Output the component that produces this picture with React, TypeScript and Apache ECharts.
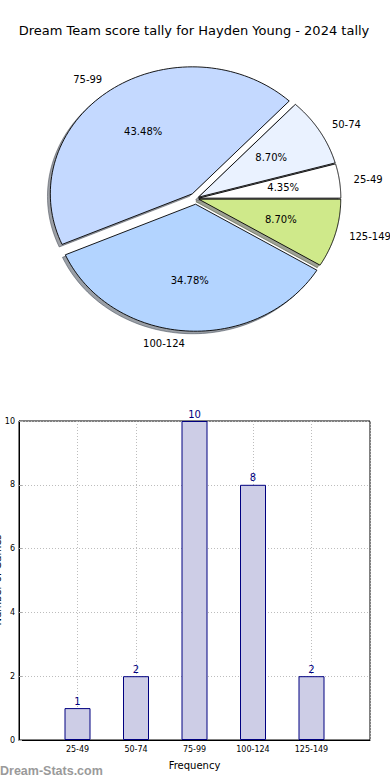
import React, { useEffect, useRef } from "react";
import * as echarts from "echarts";

const chartTitle = "Dream Team score tally for Hayden Young - 2024 tally";
const pieLabels = ["25-49", "50-74", "75-99", "100-124", "125-149"];
const pieValues = [1, 2, 10, 8, 2];
const pieColors = ["#ffffff", "#eaf2ff", "#c4d9ff", "#b3d4ff", "#cfe98a"];
const pieExplode = [0.02, 0.02, 0.045, 0.045, 0.02];

const barCategories = ["", "25-49", "50-74", "75-99", "100-124", "125-149", ""];
const barValues: (number | string)[] = ["-", 1, 2, 10, 8, 2, "-"];

const FONT = "DejaVu Sans";

function hexToRgb(h: string) {
  const n = parseInt(h.slice(1), 16);
  return [(n >> 16) & 255, (n >> 8) & 255, n & 255];
}

function wedgeGeom(i: number) {
  const total = pieValues.reduce((a, b) => a + b, 0);
  let start = 0;
  for (let k = 0; k < i; k++) start += pieValues[k];
  const t1 = (start / total) * Math.PI * 2;
  const t2 = ((start + pieValues[i]) / total) * Math.PI * 2;
  const mid = (t1 + t2) / 2;
  const ex = pieExplode[i] * Math.cos(mid);
  const ey = pieExplode[i] * Math.sin(mid);
  return { t1, t2, mid, ex, ey, total };
}

function wedgePoints(api: any, i: number, dx: number, dy: number) {
  const g = wedgeGeom(i);
  const pts: number[][] = [api.coord([g.ex + dx, g.ey + dy])];
  const steps = 80;
  for (let s = 0; s <= steps; s++) {
    const t = g.t1 + ((g.t2 - g.t1) * s) / steps;
    pts.push(api.coord([g.ex + dx + Math.cos(t), g.ey + dy + Math.sin(t)]));
  }
  return pts;
}

export default function App() {
  const ref = useRef<HTMLDivElement>(null);
  useEffect(() => {
    if (!ref.current) return;
    const chart = echarts.init(ref.current, undefined, { renderer: "svg" });
    const pieData = pieValues.map((v, i) => ({ value: [i, v] }));
    chart.setOption({
      animation: false,
      textStyle: { fontFamily: FONT },
      grid: [
        { left: 54, top: 71.5, width: 284, height: 254, show: false },
        {
          left: 19,
          top: 421,
          width: 351,
          height: 319,
          show: true,
          borderColor: "#000",
          borderWidth: 1,
        },
      ],
      xAxis: [
        { gridIndex: 0, type: "value", min: -1, max: 1, show: false },
        {
          gridIndex: 1,
          type: "category",
          data: barCategories,
          boundaryGap: false,
          axisLine: { show: true, lineStyle: { color: "#000", width: 1 } },
          axisTick: { show: false },
          axisLabel: { fontSize: 8, color: "#000", margin: 5, fontFamily: FONT },
          splitLine: {
            show: true,
            lineStyle: { color: "#bdbdbd", type: [1, 2], width: 1 },
          },
          name: "Frequency",
          nameLocation: "middle",
          nameGap: 20,
          nameTextStyle: { fontSize: 10, color: "#000", fontFamily: FONT },
        },
      ],
      yAxis: [
        { gridIndex: 0, type: "value", min: -1, max: 1, show: false },
        {
          gridIndex: 1,
          type: "value",
          min: 0,
          max: 10,
          interval: 2,
          axisLine: { show: true, lineStyle: { color: "#000", width: 1 } },
          axisTick: { show: true, inside: true, length: 3, lineStyle: { color: "#aaa" } },
          axisLabel: { fontSize: 8, color: "#000", margin: 4, fontFamily: FONT },
          splitLine: {
            show: true,
            lineStyle: { color: "#bdbdbd", type: [1, 2], width: 1 },
          },
        },
      ],
      series: [
        {
          type: "custom",
          xAxisIndex: 0,
          yAxisIndex: 0,
          clip: false,
          silent: true,
          data: pieData,
          renderItem: (params: any, api: any) => {
            const i = params.dataIndex;
            const [r, g, b] = hexToRgb(pieColors[i]);
            const c = `rgba(${Math.round(r * 0.3)},${Math.round(g * 0.3)},${Math.round(b * 0.3)},0.5)`;
            return {
              type: "polygon",
              shape: { points: wedgePoints(api, i, -0.02, -0.02) },
              style: { fill: c, stroke: c, lineWidth: 1 },
            };
          },
        },
        {
          type: "custom",
          xAxisIndex: 0,
          yAxisIndex: 0,
          clip: false,
          silent: true,
          data: pieData,
          renderItem: (params: any, api: any) => {
            const i = params.dataIndex;
            const g = wedgeGeom(i);
            const cm = Math.cos(g.mid);
            const sm = Math.sin(g.mid);
            const lp = api.coord([g.ex + 1.1 * cm, g.ey + 1.1 * sm]);
            const pp = api.coord([g.ex + 0.6 * cm, g.ey + 0.6 * sm]);
            const pct = ((pieValues[i] / g.total) * 100).toFixed(2) + "%";
            return {
              type: "group",
              children: [
                {
                  type: "polygon",
                  shape: { points: wedgePoints(api, i, 0, 0) },
                  style: { fill: pieColors[i], stroke: "#000", lineWidth: 0.9 },
                },
                {
                  type: "text",
                  x: lp[0],
                  y: lp[1],
                  style: {
                    text: pieLabels[i],
                    align: cm >= 0 ? "left" : "right",
                    verticalAlign: "middle",
                    fontSize: 10,
                    fontFamily: FONT,
                    fill: "#000",
                  },
                },
                {
                  type: "text",
                  x: pp[0],
                  y: pp[1],
                  style: {
                    text: pct,
                    align: "center",
                    verticalAlign: "middle",
                    fontSize: 10,
                    fontFamily: FONT,
                    fill: "#000",
                  },
                },
              ],
            };
          },
        },
        {
          type: "bar",
          xAxisIndex: 1,
          yAxisIndex: 1,
          data: barValues,
          barWidth: 26,
          itemStyle: { color: "#cdcde6", borderColor: "#000080", borderWidth: 1 },
          label: {
            show: true,
            position: "top",
            distance: 2,
            color: "#000080",
            fontSize: 10,
            fontFamily: FONT,
          },
        },
      ],
      graphic: [
        {
          type: "text",
          x: 194,
          y: 30,
          style: {
            text: chartTitle,
            align: "center",
            verticalAlign: "middle",
            fontSize: 13,
            fontFamily: FONT,
            fill: "#000",
          },
        },
        {
          type: "text",
          x: 2,
          y: 580,
          rotation: Math.PI / 2,
          style: {
            text: "Number of Games",
            align: "center",
            verticalAlign: "bottom",
            fontSize: 10,
            fontFamily: FONT,
            fill: "#000",
          },
        },
        {
          type: "text",
          x: 0,
          y: 771,
          style: {
            text: "Dream-Stats.com",
            align: "left",
            verticalAlign: "middle",
            fontSize: 12.5,
            fontWeight: "bold",
            fontFamily: "Liberation Sans",
            fill: "#9a9a9a",
          },
        },
      ],
    });
    return () => chart.dispose();
  }, []);
  return (
    <div
      ref={ref}
      style={{ position: "absolute", left: 0, top: 0, width: 390, height: 780 }}
    />
  );
}
